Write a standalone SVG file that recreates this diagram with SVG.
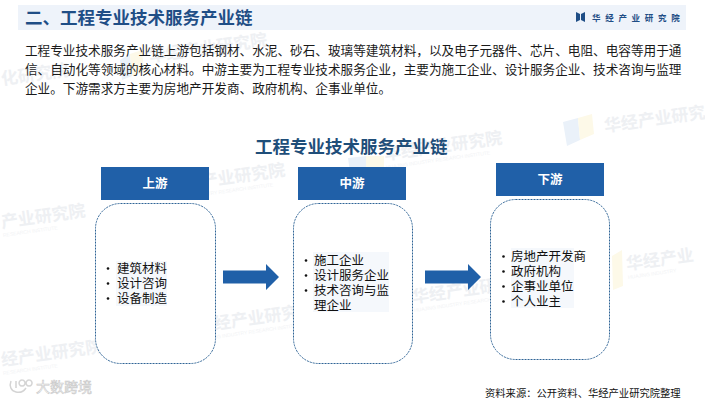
<svg xmlns="http://www.w3.org/2000/svg" width="705" height="400" viewBox="0 0 705 400">
<style>
text{font-family:"Noto Sans CJK SC","Liberation Sans",sans-serif}
.wm{font-size:17px;font-weight:700;fill:#eef0f3}
.wms{font-family:"Liberation Sans",sans-serif;font-size:5px;fill:#f2f3f5}
.wml1{fill:#eaf1f9}.wml2{fill:#fdf9e8}
.body{font-size:12.63px;fill:#1a1a1a}
.hd{fill:#2060a8}
.hdt{font-size:12.5px;font-weight:700;fill:#fff;text-anchor:middle}
.card{fill:#fff;stroke:#2f6496;stroke-width:1;stroke-dasharray:2 1}
.it{font-size:12.5px;fill:#111}
.bu{fill:#111}
.hl{fill:#f5f8fc}
.ar{fill:#2060a8}
</style>
<rect width="705" height="400" fill="#fff"/>
<g id="watermarks">
<g transform="rotate(-8 150 62)"><text class="wm" x="150" y="62">华经产业研究院</text></g>
<g transform="rotate(-8 2 85)"><text class="wm" x="2" y="85">化研究院</text></g>
<g transform="rotate(-8 605 132)"><text class="wm" x="605" y="132">华经产业研究</text></g>
<g transform="rotate(-8 168 192)"><text class="wm" x="168" y="192">华经产业研究院</text><text class="wms" x="168" y="201">HUAJING INDUSTRY RESEARCH INSTITUTE</text></g>
<g transform="rotate(-8 385 160)"><text class="wm" x="385" y="160">华经产业研究院</text><text class="wms" x="385" y="169">HUAJING INDUSTRY RESEARCH INSTITUTE</text></g>
<g transform="rotate(-8 2 228)"><text class="wm" x="2" y="228">产业研究院</text><text class="wms" x="2" y="237">RESEARCH INSTITUTE</text></g>
<g transform="rotate(-8 627 270)"><text class="wm" x="627" y="270">华经产业</text><text class="wms" x="627" y="279">HUAJING INDUSTRY</text></g>
<g transform="rotate(-8 413 303)"><text class="wm" x="413" y="303">华经产业研究院</text><text class="wms" x="413" y="312">HUAJING INDUSTRY RESEARCH INSTITUTE</text></g>
<g transform="rotate(-8 198 332)"><text class="wm" x="198" y="332">华经产业研究院</text><text class="wms" x="198" y="341">HUAJING INDUSTRY RESEARCH INSTITUTE</text></g>
<g transform="rotate(-8 2 366)"><text class="wm" x="2" y="366">经产业研究院</text><text class="wms" x="2" y="375">RESEARCH INSTITUTE</text></g>
<polygon class="wml1" points="120,60 130,54 132,76 122,80"/><polygon class="wml2" points="130,54 142,50 144,72 132,76"/>
<polygon class="wml1" points="563,122 578,118 580,140 567,146"/><polygon class="wml2" points="578,118 592,114 594,134 580,140"/>
<polygon class="wml1" points="348,158 366,156 366,172 350,172"/><polygon class="wml2" points="366,156 384,156 384,168 366,172"/>
<polygon class="wml2" points="612,256 622,250 623,286 613,290"/>
</g>
<g id="header">
<rect x="18" y="5" width="668" height="25" fill="#eef3fa"/>
<text x="25" y="24" font-size="17.5" font-weight="700" fill="#1f4e86">二、工程专业技术服务产业链</text>
<path d="M576 12l4 2v6l-4 2zM585 12l-4 2v6l4 2z" fill="#1f4e86"/>
<text x="592" y="21" font-size="8.5" font-weight="700" fill="#1f4e86" letter-spacing="4.700">华经产业研究院</text>
</g>
<g id="intro">
<text class="body" x="25" y="55">工程专业技术服务产业链上游包括钢材、水泥、砂石、玻璃等建筑材料，以及电子元器件、芯片、电阻、电容等用于通</text>
<text class="body" x="25" y="74">信、自动化等领域的核心材料。中游主要为工程专业技术服务企业，主要为施工企业、设计服务企业、技术咨询与监理</text>
<text class="body" x="25" y="93">企业。下游需求方主要为房地产开发商、政府机构、企事业单位。</text>
</g>
<text id="chart-title" x="255" y="153" font-size="17.5" font-weight="700" fill="#1f4e79">工程专业技术服务产业链</text>
<g id="connectors">
<path class="ar" d="M223 270.5H266V264L279 277L266 290V283.5H223Z"/>
<path class="ar" d="M425 270.5H468V264L481 277L468 290V283.5H425Z"/>
</g>
<g id="upstream">
<rect class="hd" x="101" y="167" width="108" height="33"/>
<text class="hdt" x="155" y="188">上游</text>
<rect class="card" x="95.5" y="203.5" width="120" height="160" rx="25"/>
<rect class="hl" x="116" y="261" width="51" height="45"/>
<circle class="bu" cx="108" cy="268.500" r="1.300"/><circle class="bu" cx="108" cy="283.500" r="1.300"/><circle class="bu" cx="108" cy="298.500" r="1.300"/>
<text class="it" x="117" y="273">建筑材料</text>
<text class="it" x="117" y="288">设计咨询</text>
<text class="it" x="117" y="303">设备制造</text>
</g>
<g id="midstream">
<rect class="hd" x="298" y="167" width="108" height="33"/>
<text class="hdt" x="352" y="188">中游</text>
<rect class="card" x="293.500" y="203.500" width="119" height="160" rx="25"/>
<rect class="hl" x="313" y="252" width="76" height="60"/>
<circle class="bu" cx="306" cy="260.500" r="1.300"/><circle class="bu" cx="306" cy="275.500" r="1.300"/><circle class="bu" cx="306" cy="290.500" r="1.300"/>
<text class="it" x="314" y="265">施工企业</text>
<text class="it" x="314" y="280">设计服务企业</text>
<text class="it" x="314" y="295">技术咨询与监</text>
<text class="it" x="314" y="310">理企业</text>
</g>
<g id="downstream">
<rect class="hd" x="496" y="163" width="108" height="33"/>
<text class="hdt" x="550" y="184">下游</text>
<rect class="card" x="490.500" y="199.500" width="119" height="160" rx="25"/>
<rect class="hl" x="511" y="248" width="63" height="60"/>
<circle class="bu" cx="503.500" cy="256.500" r="1.300"/><circle class="bu" cx="503.500" cy="271.500" r="1.300"/><circle class="bu" cx="503.500" cy="286.500" r="1.300"/><circle class="bu" cx="503.500" cy="301.500" r="1.300"/>
<text class="it" x="511" y="261">房地产开发商</text>
<text class="it" x="511" y="276">政府机构</text>
<text class="it" x="511" y="291">企事业单位</text>
<text class="it" x="511" y="306">个人业主</text>
</g>
<text id="source" x="485" y="397" font-size="10.300" fill="#111">资料来源：公开资料、华经产业研究院整理</text>
<g id="stamp">
<path d="M11 381c-2 5 0 10 5 11 4 1 8-1 10-4M16 381v7M22 380a3 3 0 1 0 .1 0M29 380a3 3 0 1 0 .1 0" fill="none" stroke="#d4d4d4" stroke-width="1.500"/>
<text x="36" y="392" font-size="14" fill="#fff" stroke="#c9c9c9" stroke-width=".6">大数跨境</text>
</g>
</svg>
